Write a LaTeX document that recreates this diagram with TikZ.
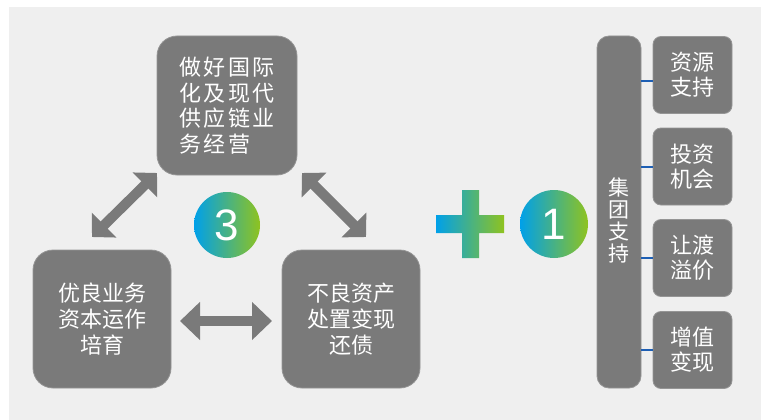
\documentclass[tikz,border=0pt]{standalone}
\usepackage{fontspec}
\setmainfont{Noto Sans CJK SC}
\newfontfamily\numfont{Liberation Sans}
\newfontfamily\spacedfont[LetterSpace=12]{Noto Sans CJK SC}
\usetikzlibrary{arrows.meta}
\definecolor{bg}{RGB}{239,239,239}
\definecolor{boxgray}{RGB}{122,122,122}
\definecolor{gblue}{RGB}{0,160,233}
\definecolor{gteal}{RGB}{0,176,155}
\definecolor{ggreen}{RGB}{143,195,31}
\definecolor{linkblue}{RGB}{30,95,180}
\tikzset{
  graybox/.style={draw=boxgray!80!white, line width=0.8pt, fill=boxgray, inner sep=0pt, text=white, align=center},
  bigbox/.style={graybox, rounded corners=20pt, minimum width=138pt, minimum height=138pt, font=\fontsize{22}{26}\selectfont},
  smallbox/.style={graybox, rounded corners=8pt, minimum width=79pt, minimum height=77pt, font=\fontsize{22}{25}\selectfont},
  tallbar/.style={graybox, rounded corners=12pt, minimum width=44pt, minimum height=352pt},
  gradcircle/.style={circle, inner sep=0pt, left color=gblue, middle color=gteal, right color=ggreen, text=white, font=\numfont\fontsize{44}{44}\selectfont},
  hdouble/.style={draw=boxgray, line width=10pt, {Triangle[width=37pt,length=20pt]}-{Triangle[width=37pt,length=20pt]}},
  ddouble/.style={draw=boxgray, line width=10pt, {Triangle[width=34pt,length=17pt]}-{Triangle[width=34pt,length=17pt]}},
  link/.style={draw=linkblue, line width=2pt}
}
\begin{document}
\begin{tikzpicture}[x=1pt,y=-1pt]
\useasboundingbox (0,0) rectangle (761,420);
\fill[white] (0,0) rectangle (761,420);
\fill[bg] (9,7) rectangle (761,420);

% three boxes
\node[bigbox, minimum width=140pt, minimum height=139pt, font=\spacedfont\fontsize{22}{25.5}\selectfont, align=left] (top) at (227,105.5) {做好国际\\化及现代\\供应链业\\务经营};
\node[bigbox] (bl) at (102,319) {优良业务\\资本运作\\培育};
\node[bigbox] (br) at (351,319) {不良资产\\处置变现\\还债};

% arrows
\coordinate (aL1) at (92,237);
\coordinate (aL2) at (157,173);
\coordinate (aR1) at (302,173);
\coordinate (aR2) at (366,237);
\coordinate (aH1) at (180,321);
\coordinate (aH2) at (272,321);
\draw[ddouble] (aL1) -- (aL2);
\draw[ddouble] (aR1) -- (aR2);
\draw[hdouble] (aH1) -- (aH2);

% circle 3
\node[gradcircle, minimum size=66pt] (c3) at (227,225) {3};

% plus sign
\shade[left color=gblue, middle color=gteal, right color=ggreen]
  (436,215) rectangle (504,233) (462,190) rectangle (479,258);

% circle 1
\node[gradcircle, minimum size=68pt] (c1) at (554,224) {1};

% right side
\node[tallbar] (bar) at (619,212) {};
\node[text=white, font=\fontsize{21}{22}\selectfont, align=center, inner sep=0pt] (bartext) at (619,220) {集\\团\\支\\持};
\node[smallbox] (b1) at (692.5,75) {资源\\支持};
\node[smallbox] (b2) at (692.5,166.5) {投资\\机会};
\node[smallbox] (b3) at (692.5,258) {让渡\\溢价};
\node[smallbox] (b4) at (692.5,350) {增值\\变现};

\draw[link] ([yshift=-6pt]b1.west) -- ([yshift=-6pt]b1.west -| bar.east);
\draw[link] (b2.west) -- (b2.west -| bar.east);
\draw[link] (b3.west) -- (b3.west -| bar.east);
\draw[link] (b4.west) -- (b4.west -| bar.east);
\end{tikzpicture}
\end{document}
